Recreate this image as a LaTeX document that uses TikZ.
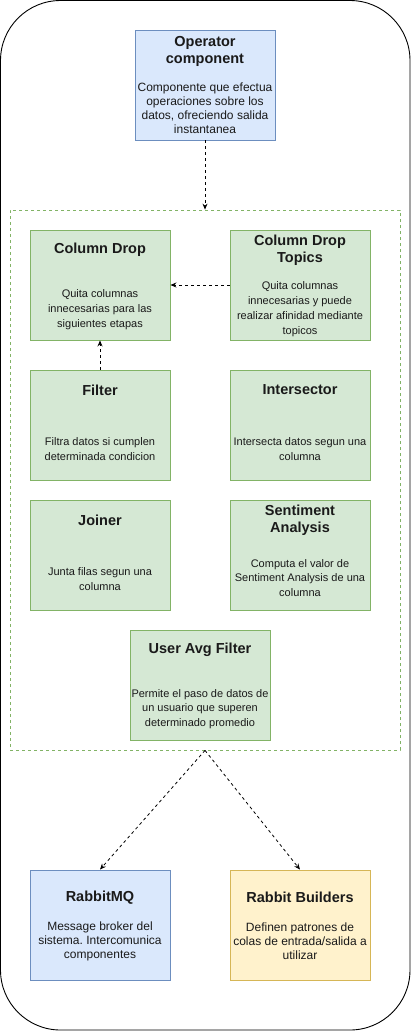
\documentclass[tikz,border=0pt]{standalone}
\usepackage{fontspec}
\setmainfont{Liberation Sans}
\usetikzlibrary{arrows.meta}
\frenchspacing
\definecolor{gfill}{HTML}{D5E8D4}
\definecolor{gline}{HTML}{82B366}
\definecolor{bfill}{HTML}{DAE8FC}
\definecolor{bline}{HTML}{6C8EBF}
\definecolor{yfill}{HTML}{FFF2CC}
\definecolor{yline}{HTML}{D6B656}
\definecolor{txt}{HTML}{1A1A1A}
\tikzset{
  box/.style={draw, line width=0.9pt, minimum width=140pt, minimum height=110pt, inner sep=0pt},
  gbox/.style={box, fill=gfill, draw=gline},
  bbox/.style={box, fill=bfill, draw=bline},
  ybox/.style={box, fill=yfill, draw=yline},
  ttl/.style={font=\bfseries\fontsize{14.5}{17}\selectfont, text=txt, align=center, inner sep=0pt},
  bdy/.style={font=\fontsize{11}{14.8}\selectfont, text=txt, align=center, inner sep=0pt},
  bdyl/.style={font=\fontsize{12}{14}\selectfont, text=txt, align=center, inner sep=0pt},
  conn/.style={draw, dashed, line width=0.8pt, -{Stealth[length=6pt,width=5pt]}},
}
\begin{document}
\begin{tikzpicture}[x=1pt,y=-1pt]
\useasboundingbox (0,0) rectangle (411,1031);
\draw[line width=0.9pt, rounded corners=60pt] (0.5,0.5) rectangle (410,1030);
% container
\node[draw=gline, dashed, line width=0.8pt, minimum width=390pt, minimum height=540pt, inner sep=0pt] (cont) at (205,480) {};
% operator
\node[bbox] (op) at (205,85) {};
\node[ttl] at (205,51) {Operator\\component};
\node[bdyl] at (205,108.5) {Componente que efectua\\operaciones sobre los\\datos, ofreciendo salida\\instantanea};
% column drop
\node[gbox] (cd) at (100,285) {};
\node[ttl] at (100,250) {Column Drop};
\node[bdy] at (100,309.5) {Quita columnas\\innecesarias para las\\siguientes etapas};
% column drop topics
\node[gbox] (cdt) at (300,285) {};
\node[ttl] at (300,250.5) {Column Drop\\Topics};
\node[bdy] at (300,309) {Quita columnas\\innecesarias y puede\\realizar afinidad mediante\\topicos};
% filter
\node[gbox] (fil) at (100,425) {};
\node[ttl] at (100,390) {Filter};
\node[bdy] at (100,449) {Filtra datos si cumplen\\determinada condicion};
% intersector
\node[gbox] (int) at (300,425) {};
\node[ttl] at (300,390) {Intersector};
\node[bdy] at (300,449) {Intersecta datos segun una\\columna};
% joiner
\node[gbox] (join) at (100,555) {};
\node[ttl] at (100,520) {Joiner};
\node[bdy] at (100,579) {Junta filas segun una\\columna};
% sentiment
\node[gbox] (sa) at (300,555) {};
\node[ttl] at (300,520) {Sentiment\\Analysis};
\node[bdy] at (300,578) {Computa el valor de\\Sentiment Analysis de una\\columna};
% user avg filter
\node[gbox] (uaf) at (200,685) {};
\node[ttl] at (200,650) {User Avg Filter};
\node[bdy] at (200,709) {Permite el paso de datos de\\un usuario que superen\\determinado promedio};
% rabbitmq
\node[bbox] (rmq) at (100,925) {};
\node[ttl] at (100,897.5) {RabbitMQ};
\node[bdyl] at (100,941) {Message broker del\\sistema. Intercomunica\\componentes};
% rabbit builders
\node[ybox] (rb) at (300,925) {};
\node[ttl] at (300,897.5) {Rabbit Builders};
\node[bdyl] at (300,941) {Definen patrones de\\colas de entrada/salida a\\utilizar};
% connectors
\draw[conn] (op.south) -- (cont.north);
\draw[conn] (cdt.west) -- (cd.east);
\draw[conn] (fil.north) -- (cd.south);
\draw[conn] (cont.south) -- (rmq.north);
\draw[conn] (cont.south) -- (rb.north);
\end{tikzpicture}
\end{document}
